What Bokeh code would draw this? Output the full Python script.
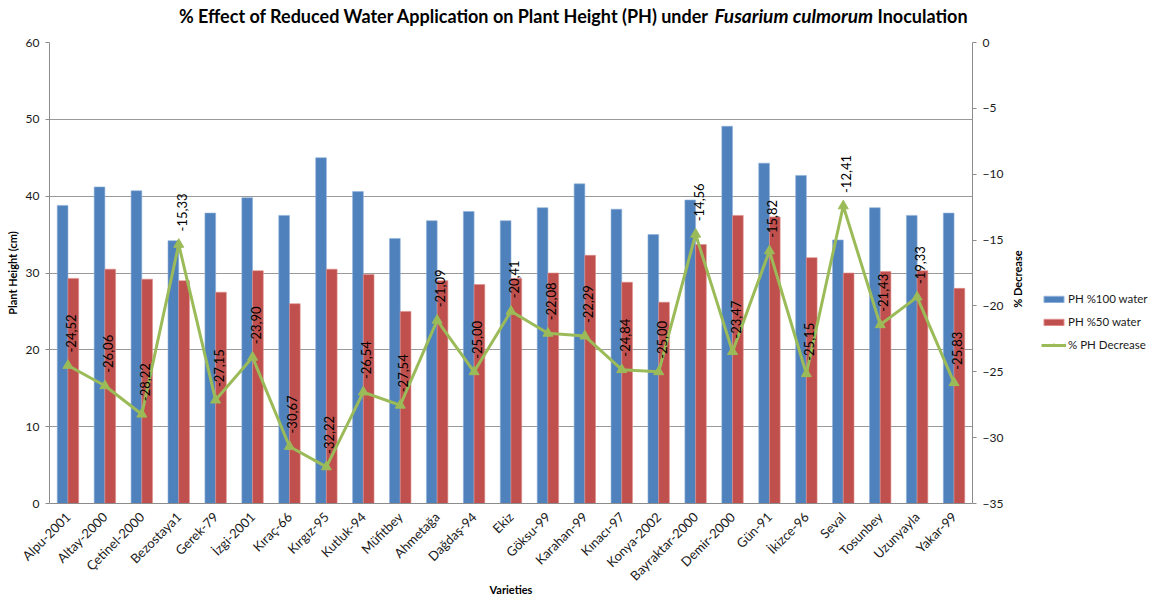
import math
from bokeh.plotting import figure
from bokeh.layouts import column, row
from bokeh.models import (Range1d, LinearAxis, FixedTicker, Legend,
                          LegendItem, ColumnDataSource)
from bokeh.core.properties import value
from bokeh.embed import file_html
from bokeh.resources import INLINE

# ---------------- data ----------------
varieties = ["Alpu-2001", "Altay-2000", "Çetinel-2000", "Bezostaya1", "Gerek-79",
             "İzgi-2001", "Kıraç-66", "Kırgız-95", "Kutluk-94", "Müfitbey",
             "Ahmetağa", "Dağdaş-94", "Ekiz", "Göksu-99", "Karahan-99",
             "Kınacı-97", "Konya-2002", "Bayraktar-2000", "Demir-2000", "Gün-91",
             "İkizce-96", "Seval", "Tosunbey", "Uzunyayla", "Yakar-99"]
ph_100 = [38.8, 41.2, 40.7, 34.2, 37.8, 39.8, 37.5, 45.0, 40.6, 34.5,
          36.8, 38.0, 36.8, 38.5, 41.6, 38.3, 35.0, 39.5, 49.1, 44.3,
          42.7, 34.3, 38.5, 37.5, 37.8]
ph_50 = [29.3, 30.5, 29.2, 29.0, 27.5, 30.3, 26.0, 30.5, 29.8, 25.0,
         29.0, 28.5, 29.3, 30.0, 32.3, 28.8, 26.2, 33.7, 37.5, 37.3,
         32.0, 30.0, 30.2, 30.3, 28.0]
pct_decrease = [-24.52, -26.06, -28.22, -15.33, -27.15, -23.90, -30.67, -32.22,
                -26.54, -27.54, -21.09, -25.00, -20.41, -22.08, -22.29, -24.84,
                -25.00, -14.56, -23.47, -15.82, -25.15, -12.41, -21.43, -19.33,
                -25.83]
left_ticks = [0, 10, 20, 30, 40, 50, 60]
right_ticks = [-35, -30, -25, -20, -15, -10, -5, 0]
series_names = ["PH %100 water", "PH %50 water", "% PH Decrease"]
title_parts = ["% Effect of Reduced Water Application on Plant Height (PH) under",
               "Fusarium culmorum", "Inoculation"]
right_title = "% Decrease"

FONT = "Lato"
BLUE, RED, GREEN = "#4F81BD", "#C0504D", "#9BBB59"
AXIS_GRAY = "#8C8C8C"
TXT = "#1a1a1a"

# ---------------- layout geometry (pixels) ----------------
LEFT, FW, RIGHT = 49, 923, 30          # main figure: left border, frame, right border
MAIN_W = LEFT + FW + RIGHT              # 1002
SIDE_W = 148
TOTAL_W = MAIN_W + SIDE_W
TITLE_H = 36
TOP, FH, BOTTOM = 6, 461, 94
MAIN_H = TOP + FH + BOTTOM

n = len(varieties)
xs = list(range(1, n + 1))
dodge = 0.145
src = ColumnDataSource(dict(
    x=xs,
    x100=[x - dodge for x in xs],
    x50=[x + dodge for x in xs],
    ph100=ph_100,
    ph50=ph_50,
    pct=pct_decrease,
    lab=[f"{v:.2f}".replace(".", ",") for v in pct_decrease],
))

def blank(fig):
    fig.axis.visible = False
    fig.grid.visible = False
    fig.outline_line_color = None
    fig.background_fill_color = None
    fig.border_fill_color = None

# ---------------- title strip ----------------
t = figure(frame_width=TOTAL_W, frame_height=TITLE_H,
           x_range=Range1d(0, TOTAL_W), y_range=Range1d(0, TITLE_H),
           output_backend="svg", toolbar_location=None,
           min_border_left=0, min_border_right=0, min_border_top=0, min_border_bottom=0)
blank(t)
tkw = dict(y=TITLE_H - 15, text_baseline="middle", text_font=value(FONT),
           text_color="black")
t.text(x=709, text=[title_parts[0]], text_align="right", text_font_style="bold",
       text_font_size="18px", **tkw)
t.text(x=714, text=[title_parts[1]], text_align="left", text_font_style="bold italic",
       text_font_size="19px", **tkw)
t.text(x=877, text=[title_parts[2]], text_align="left", text_font_style="bold",
       text_font_size="18px", **tkw)

# ---------------- main chart ----------------
p = figure(frame_width=FW, frame_height=FH,
           x_range=Range1d(0.5, n + 0.5), y_range=Range1d(0, 60),
           output_backend="svg", toolbar_location=None,
           min_border_left=LEFT, min_border_top=TOP, min_border_right=RIGHT,
           min_border_bottom=BOTTOM)
p.extra_y_ranges = {"pct": Range1d(-35, 0)}
p.outline_line_color = None

# x axis
xa = p.xaxis[0]
xa.ticker = FixedTicker(ticks=xs)
xa.major_label_overrides = {i + 1: v for i, v in enumerate(varieties)}
xa.major_label_orientation = math.pi / 4
xa.major_tick_line_color = None
xa.minor_tick_line_color = None
xa.axis_line_color = AXIS_GRAY
xa.major_label_text_font = FONT
xa.major_label_text_font_size = "13px"
xa.major_label_text_color = TXT
xa.major_label_standoff = 5
xa.axis_label = "Varieties"
xa.axis_label_text_font = FONT
xa.axis_label_text_font_size = "11px"
xa.axis_label_text_font_style = "bold"
xa.axis_label_text_color = "black"
xa.axis_label_standoff = -9

# left axis
ya = p.yaxis[0]
ya.ticker = FixedTicker(ticks=left_ticks)
ya.major_tick_in = 0
ya.major_tick_out = 4
ya.major_tick_line_color = AXIS_GRAY
ya.minor_tick_line_color = None
ya.axis_line_color = AXIS_GRAY
ya.major_label_text_font = FONT
ya.major_label_text_font_size = "12px"
ya.major_label_text_color = TXT
ya.major_label_standoff = 6
ya.axis_label = "Plant Height (cm)"
ya.axis_label_text_font = FONT
ya.axis_label_text_font_size = "11px"
ya.axis_label_text_font_style = "bold"
ya.axis_label_text_color = "black"
ya.axis_label_standoff = 4

# right axis
ra = LinearAxis(y_range_name="pct", ticker=FixedTicker(ticks=right_ticks))
ra.major_tick_in = 0
ra.major_tick_out = 4
ra.major_tick_line_color = AXIS_GRAY
ra.minor_tick_line_color = None
ra.axis_line_color = AXIS_GRAY
ra.major_label_text_font = FONT
ra.major_label_text_font_size = "12px"
ra.major_label_text_color = TXT
ra.major_label_standoff = 6
p.add_layout(ra, "right")

p.xgrid.visible = False
p.ygrid.ticker = FixedTicker(ticks=left_ticks)
p.ygrid.grid_line_color = "#9A9A9A"
p.ygrid.grid_line_width = 1.2

# bars
bar_kw = dict(bottom=0, width=0.29, line_width=0.6)
p.vbar(x="x100", top="ph100", source=src, fill_color=BLUE, line_color="#8FB0D9", **bar_kw)
p.vbar(x="x50", top="ph50", source=src, fill_color=RED, line_color="#DE8E8C", **bar_kw)

# line
p.line(x="x", y="pct", source=src, y_range_name="pct", line_color=GREEN, line_width=3)
p.scatter(x="x", y="pct", source=src, y_range_name="pct",
          marker="triangle", size=10, fill_color=GREEN, line_color=GREEN)

p.text(x="x", y="pct", text="lab", source=src, y_range_name="pct",
       angle=math.pi / 2, text_align="left", text_baseline="middle",
       x_offset=3, y_offset=-13, text_font=value(FONT),
       text_font_size="13px", text_color="black")

# ---------------- side strip: right-axis title + legend ----------------
s = figure(frame_width=SIDE_W, frame_height=MAIN_H,
           x_range=Range1d(0, SIDE_W), y_range=Range1d(0, MAIN_H),
           output_backend="svg", toolbar_location=None,
           min_border_left=0, min_border_right=0, min_border_top=0, min_border_bottom=0)
blank(s)
s.text(x=1013 - MAIN_W, y=MAIN_H - (272.5 - TITLE_H), text=[right_title],
       angle=math.pi / 2, text_align="center", text_baseline="middle",
       text_font=value(FONT), text_font_size="11px", text_font_style="bold",
       text_color="black")

# legend proxies (one NaN point each, so nothing is drawn in the strip)
nan = float("nan")
proxy = ColumnDataSource(dict(x=[nan], top=[nan], y=[nan]))
l1 = s.vbar(x="x", top="top", width=1, source=proxy, fill_color=BLUE, line_color="#8FB0D9")
l2 = s.vbar(x="x", top="top", width=1, source=proxy, fill_color=RED, line_color="#DE8E8C")
l3 = s.line(x="x", y="y", source=proxy, line_color=GREEN, line_width=3)
l4 = s.scatter(x="x", y="y", source=proxy, marker="triangle", size=10,
               fill_color=GREEN, line_color=GREEN)

legend = Legend(items=[
    LegendItem(label=series_names[0], renderers=[l1]),
    LegendItem(label=series_names[1], renderers=[l2]),
    LegendItem(label=series_names[2], renderers=[l3, l4]),
], location=(1037 - MAIN_W, MAIN_H - (351.7 - TITLE_H)))
legend.border_line_color = None
legend.background_fill_alpha = 0
legend.padding = 4
legend.margin = 0
legend.spacing = 9
legend.glyph_width = 25
legend.glyph_height = 8
legend.label_height = 14
legend.label_standoff = 2
legend.label_text_font = FONT
legend.label_text_font_size = "11.5px"
legend.label_text_color = TXT
s.add_layout(legend)

layout = column(t, row(p, s, spacing=0), spacing=0)
open("out.html", "w").write(file_html(layout, INLINE))
